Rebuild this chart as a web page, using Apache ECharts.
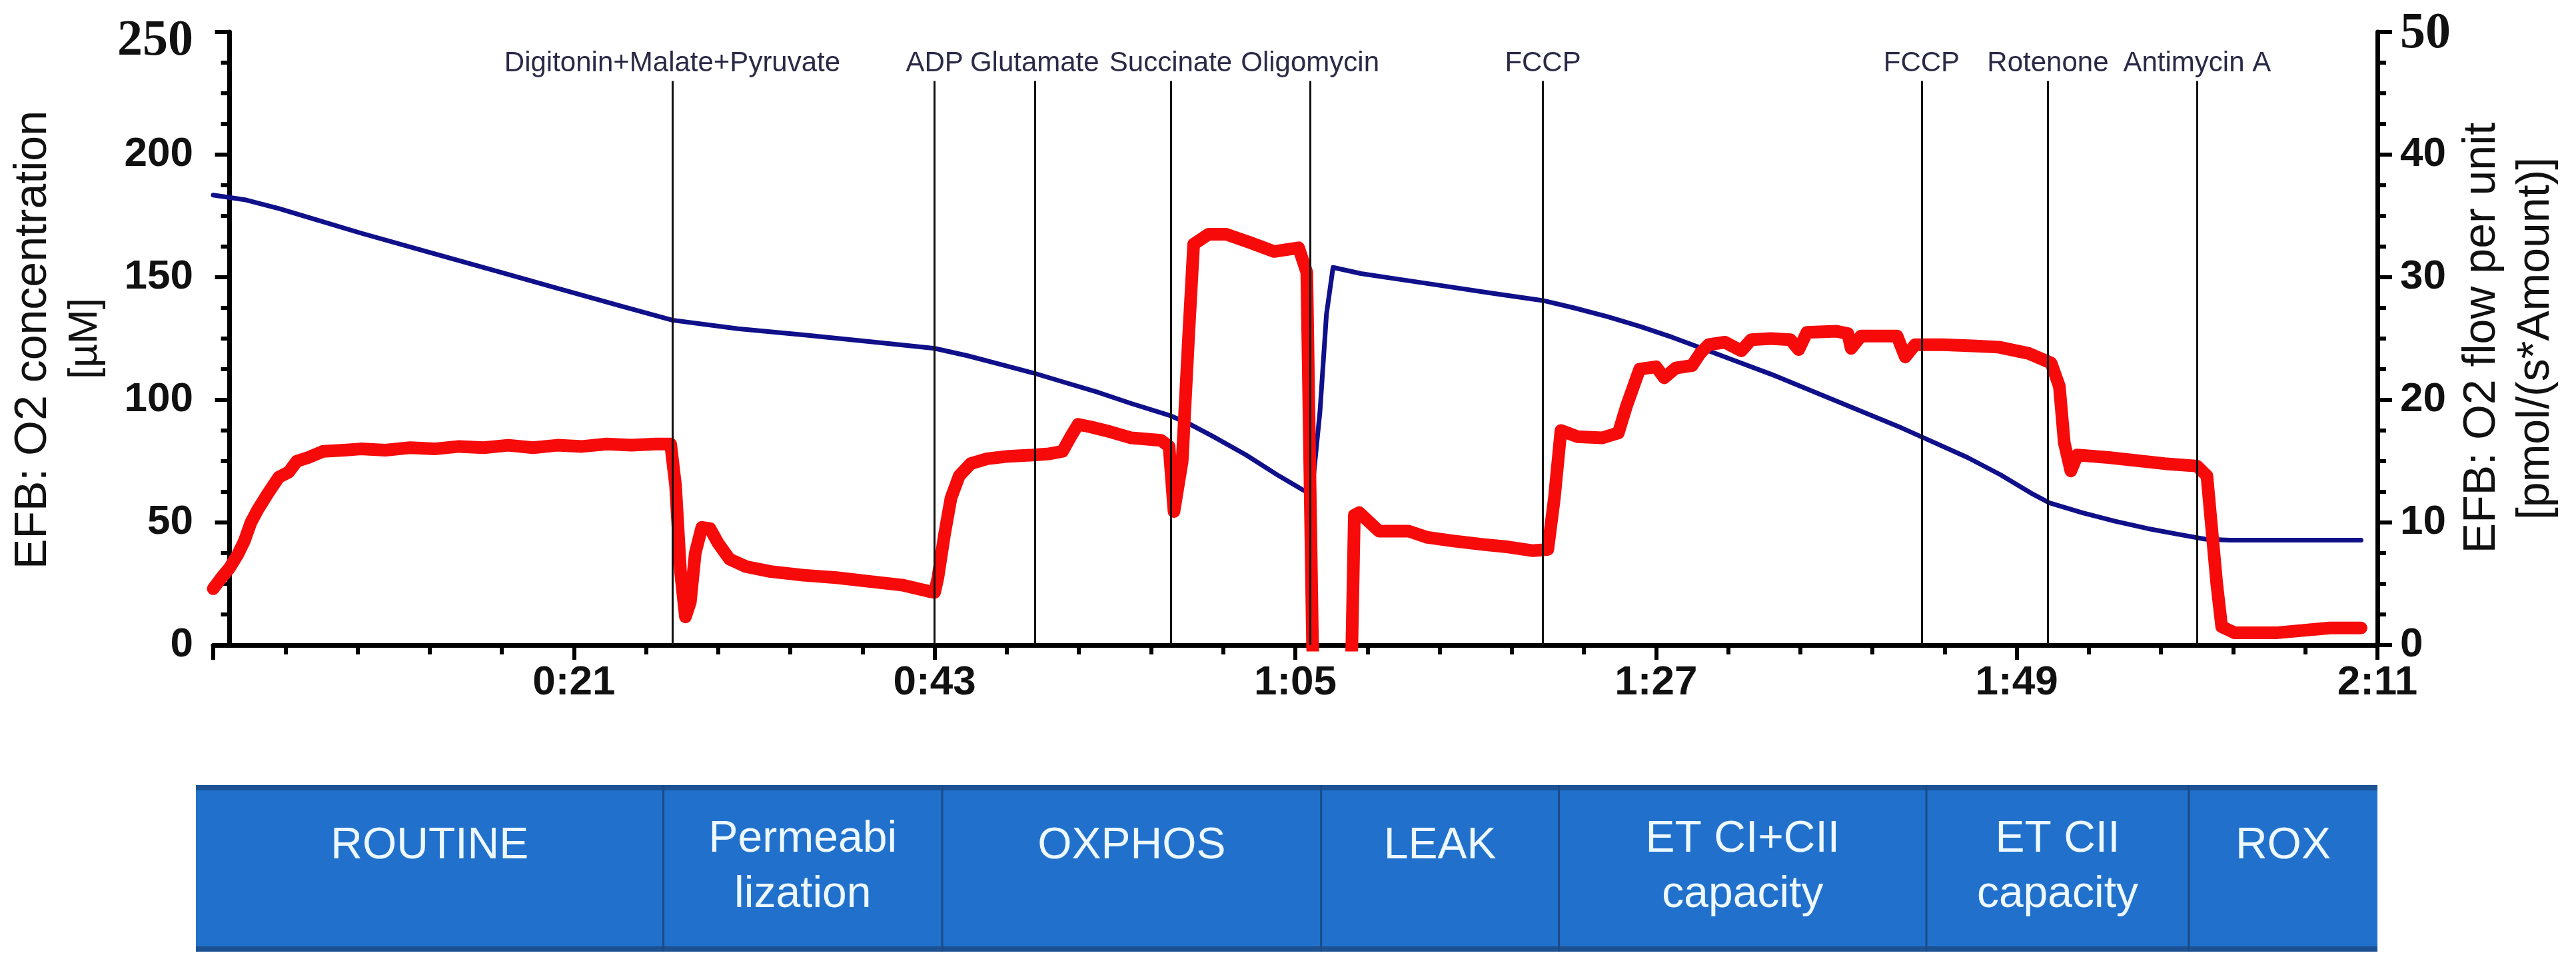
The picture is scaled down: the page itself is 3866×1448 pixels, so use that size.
<!DOCTYPE html>
<html><head><meta charset="utf-8">
<script src="https://cdn.jsdelivr.net/npm/echarts@6/dist/echarts.min.js"></script>
<style>html,body{margin:0;padding:0;background:#fff}#c{width:3866px;height:1448px}</style>
</head><body><div id="c"></div>
<script>
// ---- data (time in minutes) ----
const o2Concentration = [
 [-1,183.5],[1,181.5],[3,178],[5,174],[8,168],[12,160.5],[16,153],[20,145.5],[24,138],[27,132.5],
 [31,129],[35,126.5],[39,123.8],[43,121],[45,118],[47,114.5],[49,111],[51,107],[53,103],[55,98.5],
 [57.4,93.5],[58.6,90],[60,85],[62,77.5],[64,69],[65.4,63.5],[66.0,61.5],[66.5,95],[66.9,135],[67.3,154],
 [69,151.5],[71,149.5],[74,146.5],[77,143.5],[80.1,140.5],[82,137.5],[84,134],[86,130],[88,125.5],[90,120.5],
 [92,115.5],[94,110.5],[96,105],[98,99.5],[100,94],[102,88.5],[104,82.5],[106,76.5],[108,69.5],[110,61.5],
 [111,58],[113,54],[115,50.5],[117,47.5],[119,45],[120.5,43.2],[122,42.8],[126,42.8],[130,42.8]
];
const o2Flow = [
 [-1,4.6],[-0.5,5.5],[0,6.3],[0.5,7.4],[0.9,8.5],[1.3,10],[1.7,11],[2.3,12.3],[3,13.7],[3.6,14.1],
 [4.1,15],[4.8,15.3],[5.7,15.8],[7,15.9],[8,16],[9.5,15.9],[11,16.1],[12.5,16],[14,16.2],[15.5,16.1],
 [17,16.3],[18.5,16.1],[20,16.3],[21.5,16.2],[23,16.4],[24.5,16.3],[26,16.4],[26.9,16.4],[27.2,13],[27.5,6],
 [27.8,2.3],[28.1,3.5],[28.4,7.5],[28.8,9.6],[29.3,9.5],[29.8,8.3],[30.5,7],[31.5,6.4],[33,6],[35,5.7],
 [37,5.5],[39,5.2],[41,4.9],[42.6,4.4],[43,4.3],[43.2,5.5],[43.6,9],[44,12],[44.5,13.8],[45.2,14.8],
 [46.2,15.2],[47.5,15.4],[49,15.5],[50,15.6],[50.8,15.8],[51.3,17],[51.75,18],[52.5,17.8],[53.7,17.4],[55,16.9],
 [56.8,16.7],[57.3,16.2],[57.6,10.9],[58.1,15],[58.5,25.4],[58.8,32.7],[59.7,33.5],[60.8,33.5],[62.3,32.8],[63.7,32.1],
 [65.2,32.4],[65.7,30.4],[66.05,0],[66.3,-8],[68.2,-8],[68.45,0],[68.6,10.6],[68.9,10.8],[70.1,9.3],[71.9,9.3],
 [73,8.8],[74.6,8.5],[76.5,8.2],[78,8],[79.5,7.7],[80.4,7.8],[80.8,12],[81.2,17.5],[82.2,17],[83.7,16.9],
 [84.7,17.3],[85.2,19.5],[86,22.5],[87,22.7],[87.5,21.8],[88.2,22.6],[89.2,22.8],[89.7,23.8],[90.2,24.5],[91.2,24.7],
 [92.2,24],[92.8,24.9],[94,25],[95.2,24.9],[95.7,24.1],[96.2,25.5],[98,25.6],[98.7,25.4],[98.9,24.2],[99.5,25.2],
 [101.7,25.2],[102.2,23.5],[102.8,24.5],[104.5,24.5],[106.3,24.4],[107.9,24.3],[109.7,23.8],[111.1,23],[111.6,21.1],[111.9,16.5],
 [112.3,14.2],[112.7,15.5],[114.6,15.3],[118,14.8],[120,14.6],[120.6,13.8],[121.2,5],[121.5,1.5],[122.3,1],[124.8,1],
 [128.1,1.4],[130,1.4]
];
const eventTimes = [27.0, 43.0, 49.1, 57.4, 65.9, 80.1, 103.2, 110.9, 120.0];
const eventNames = ['Digitonin+Malate+Pyruvate','ADP','Glutamate','Succinate','Oligomycin','FCCP','FCCP','Rotenone','Antimycin A'];
const phaseNames = ['ROUTINE','Permeabi\nlization','OXPHOS','LEAK','ET CI+CII\ncapacity','ET CII\ncapacity','ROX'];
const phaseStarts = [-2, 26.5, 43.5, 66.6, 81.1, 103.5, 119.5];
const phaseEnds = [26.5, 43.5, 66.6, 81.1, 103.5, 119.5, 131];
const leftAxisTitle = ['EFB: O2 concentration', '[µM]'];
const rightAxisTitle = ['EFB: O2 flow per unit', '[pmol/(s*Amount)]'];

const SANS = '"Liberation Sans", Arial, sans-serif';
const SERIF = '"Liberation Serif", "Times New Roman", serif';
const fmtTime = v => v < 0 ? '' : Math.floor(v / 60) + ':' + String(Math.round(v % 60)).padStart(2, '0');

const chart = echarts.init(document.getElementById('c'), null, {renderer: 'canvas'});
const axisCommon = {
  axisLine: {show: true, lineStyle: {color: '#000', width: 7}},
  axisTick: {show: true, length: 22, lineStyle: {color: '#000', width: 6}},
  splitLine: {show: false}
};
chart.setOption({
  animation: false,
  backgroundColor: '#fff',
  grid: [
    {left: 320, right: 298, top: 48, bottom: 480, outerBoundsMode: 'none'},
    {left: 294, right: 298, top: 1178, height: 250, outerBoundsMode: 'none'}
  ],
  xAxis: [
    Object.assign({}, axisCommon, {
      type: 'value', gridIndex: 0, min: -1, max: 131, interval: 22,
      minorTick: {show: true, splitNumber: 5, length: 14, lineStyle: {color: '#000', width: 6}},
      axisLabel: {formatter: fmtTime, fontSize: 62, fontWeight: 'bold', color: '#111', fontFamily: SANS, margin: 26, showMinLabel: true, showMaxLabel: true}
    }),
    {type: 'value', gridIndex: 1, min: -2, max: 131, show: false}
  ],
  yAxis: [
    Object.assign({}, axisCommon, {
      type: 'value', gridIndex: 0, position: 'left', min: 0, max: 250, interval: 50,
      minorTick: {show: true, splitNumber: 4, length: 13, lineStyle: {color: '#000', width: 6}},
      axisLabel: {
        margin: 30, color: '#111',
        formatter: v => v === 250 ? '{s|250}' : '{n|' + v + '}',
        rich: {
          n: {fontSize: 62, fontWeight: 'bold', fontFamily: SANS, color: '#111'},
          s: {fontSize: 76, fontWeight: 'bold', fontFamily: SERIF, color: '#111', padding: [28, 0, 0, 0]}
        }
      }
    }),
    Object.assign({}, axisCommon, {
      type: 'value', gridIndex: 0, position: 'right', min: 0, max: 50, interval: 10,
      minorTick: {show: true, splitNumber: 4, length: 13, lineStyle: {color: '#000', width: 6}},
      axisLabel: {
        margin: 34, color: '#111',
        formatter: v => v === 50 ? '{s|50}' : '{n|' + v + '}',
        rich: {
          n: {fontSize: 62, fontWeight: 'bold', fontFamily: SANS, color: '#111'},
          s: {fontSize: 76, fontWeight: 'bold', fontFamily: SERIF, color: '#111', padding: [6, 0, 0, 0]}
        }
      }
    }),
    {type: 'value', gridIndex: 1, min: 0, max: 1, show: false}
  ],
  series: [
    {
      name: 'O2 concentration', type: 'line', xAxisIndex: 0, yAxisIndex: 0,
      data: o2Concentration, symbol: 'none', silent: true,
      lineStyle: {color: '#10108a', width: 7, join: 'round', cap: 'round'},
      markLine: {
        silent: true, symbol: ['none', 'none'], animation: false,
        lineStyle: {color: '#111', width: 3, type: 'solid'},
        label: {show: true, position: 'start', formatter: '{b}', distance: 5,
                fontSize: 42, fontFamily: SANS, color: '#2a2a46'},
        data: eventTimes.map((t, i) => [{name: eventNames[i], coord: [t, 230]}, {coord: [t, 0]}])
      }
    },
    {
      name: 'O2 flow', type: 'line', xAxisIndex: 0, yAxisIndex: 1,
      data: o2Flow, symbol: 'none', silent: true, clip: true,
      lineStyle: {color: '#f60a0a', width: 19, join: 'round', cap: 'round'}
    },
    {
      name: 'phases', type: 'custom', xAxisIndex: 1, yAxisIndex: 2, silent: true,
      data: phaseStarts.map((s, i) => [s, phaseEnds[i]]),
      renderItem: (params, api) => {
        const a = api.coord([api.value(0), 1]);
        const b = api.coord([api.value(1), 0]);
        const x0 = a[0], y0 = a[1], w = b[0] - a[0], h = b[1] - a[1];
        const name = phaseNames[params.dataIndex];
        const two = name.indexOf('\n') >= 0;
        const ch = [
          {type: 'rect', shape: {x: x0, y: y0, width: w, height: h}, style: {fill: '#2171cc'}},
          {type: 'rect', shape: {x: x0, y: y0, width: w, height: 8}, style: {fill: '#1c5293'}},
          {type: 'rect', shape: {x: x0, y: y0 + h - 8, width: w, height: 8}, style: {fill: '#1c5293'}}
        ];
        if (params.dataIndex > 0) ch.push({type: 'rect', shape: {x: x0 - 1.5, y: y0, width: 3, height: h}, style: {fill: '#1a4a86'}});
        ch.push({type: 'text', x: x0 + w / 2, y: y0 + (two ? 40 : 50),
          style: {text: name, align: 'center', verticalAlign: 'top', fontSize: 66, fontFamily: SANS, lineHeight: 83, fill: '#eef8ff'}});
        return {type: 'group', children: ch};
      }
    }
  ],
  graphic: [
    {type: 'text', x: 50, y: 510, rotation: Math.PI / 2, style: {text: leftAxisTitle[0], align: 'center', verticalAlign: 'middle', fontSize: 68, fontFamily: SANS, fill: '#111'}},
    {type: 'text', x: 128, y: 508, rotation: Math.PI / 2, style: {text: leftAxisTitle[1], align: 'center', verticalAlign: 'middle', fontSize: 62, fontFamily: SANS, fill: '#111'}},
    {type: 'text', x: 3725, y: 507, rotation: Math.PI / 2, style: {text: rightAxisTitle[0], align: 'center', verticalAlign: 'middle', fontSize: 68, fontFamily: SANS, fill: '#111'}},
    {type: 'text', x: 3806, y: 508, rotation: Math.PI / 2, style: {text: rightAxisTitle[1], align: 'center', verticalAlign: 'middle', fontSize: 68, fontFamily: SANS, fill: '#111'}}
  ]
});
</script>
</body></html>
